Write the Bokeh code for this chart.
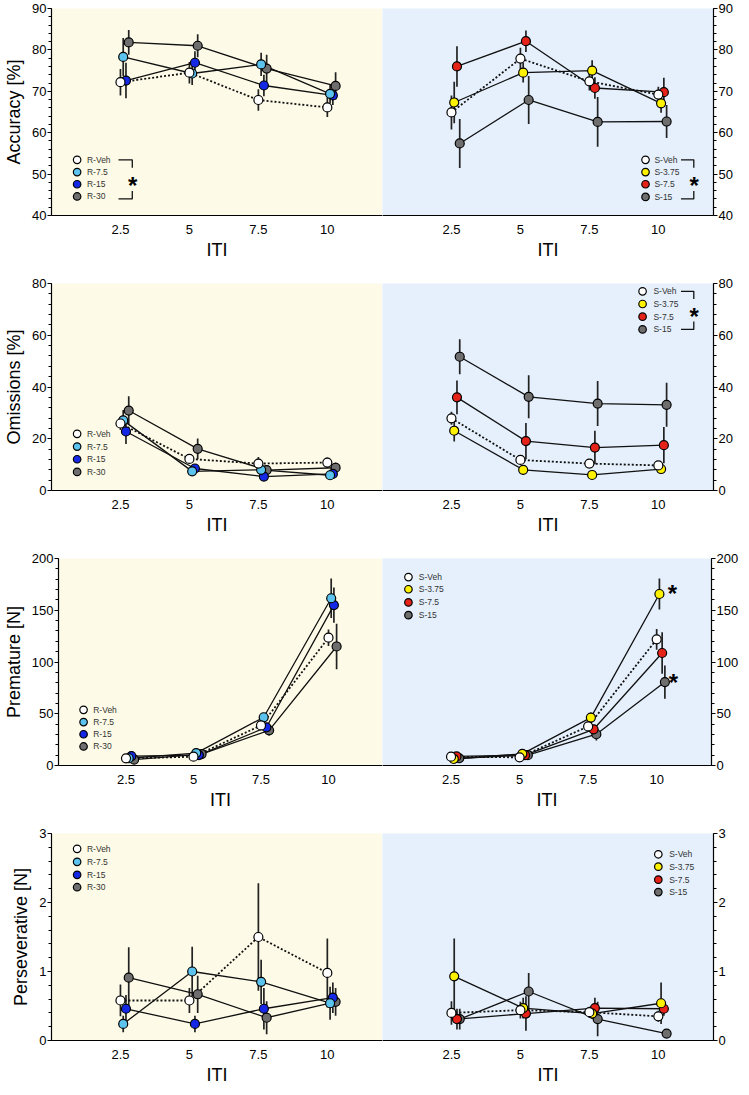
from bokeh.plotting import figure
from bokeh.layouts import column, row
from bokeh.models import Range1d, FixedTicker, SingleIntervalTicker, NumeralTickFormatter
from bokeh.core.properties import value
from bokeh.embed import file_html
from bokeh.resources import INLINE

FONT = "Liberation Sans"

# ---------------- data ----------------
ITI = [2.5, 5, 7.5, 10]
R_GROUPS = ["R-Veh", "R-7.5", "R-15", "R-30"]
S_GROUPS = ["S-Veh", "S-3.75", "S-7.5", "S-15"]
R_COLORS = ["#FFFFFF", "#5BC3EE", "#1428E6", "#6E6E6E"]
S_COLORS = ["#FFFFFF", "#FFF200", "#E62319", "#6E6E6E"]
DODGE = [0.0, 0.1, 0.2, 0.3]

accuracy_R = [[72.2, 74.5, 67.9, 66.1],
              [78.3, 74.3, 76.5, 69.4],
              [72.6, 76.9, 71.4, 69.0],
              [81.8, 81.0, 75.5, 71.3]]
accuracy_R_sem = [[3.2, 2.6, 2.6, 2.3],
                  [4.6, 2.8, 2.8, 2.3],
                  [4.3, 2.8, 2.6, 2.3],
                  [3.0, 2.8, 3.3, 3.3]]
accuracy_S = [[64.9, 77.9, 72.4, 69.2],
              [67.3, 74.5, 75.0, 67.1],
              [76.0, 82.1, 70.8, 69.8],
              [57.4, 67.9, 62.6, 62.7]]
accuracy_S_sem = [[4.1, 2.6, 2.2, 1.9],
                  [5.0, 2.4, 2.5, 2.3],
                  [4.9, 2.6, 2.6, 3.5],
                  [5.9, 5.8, 6.0, 4.0]]

omissions_R = [[25.9, 12.2, 10.4, 10.8],
               [27.1, 7.4, 8.0, 5.9],
               [22.8, 8.5, 5.4, 6.4],
               [30.9, 16.1, 7.9, 8.8]]
omissions_R_sem = [[2.5, 1.5, 2.5, 2.0],
                   [4.0, 1.3, 2.0, 1.0],
                   [4.8, 1.5, 1.0, 1.3],
                   [5.5, 4.0, 2.0, 2.0]]
omissions_S = [[27.9, 11.8, 10.4, 9.7],
               [23.1, 8.0, 6.0, 8.3],
               [36.0, 19.1, 16.6, 17.5],
               [51.7, 36.2, 33.6, 33.1]]
omissions_S_sem = [[2.5, 1.3, 1.5, 1.0],
                   [4.2, 1.8, 1.0, 1.5],
                   [6.5, 7.0, 6.5, 7.0],
                   [6.8, 8.3, 8.7, 8.5]]

premature_R = [[6.9, 8.5, 38.7, 123.5],
               [7.0, 12.0, 46.6, 161.6],
               [9.1, 10.1, 36.9, 155.0],
               [5.7, 11.0, 34.0, 115.0]]
premature_R_sem = [[1.5, 1.5, 3.0, 8.0],
                   [1.5, 2.0, 4.0, 19.0],
                   [1.5, 2.0, 4.0, 17.0],
                   [1.5, 2.0, 5.0, 22.0]]
premature_S = [[8.5, 7.9, 37.8, 121.9],
               [6.3, 11.3, 46.3, 165.7],
               [8.8, 10.0, 35.0, 108.7],
               [7.0, 10.0, 30.2, 80.6]]
premature_S_sem = [[1.0, 1.0, 3.0, 10.0],
                   [1.0, 1.5, 5.0, 15.0],
                   [1.0, 1.5, 4.0, 20.0],
                   [1.0, 1.5, 6.0, 16.0]]

persev_R = [[0.58, 0.58, 1.50, 0.98],
            [0.24, 1.00, 0.85, 0.54],
            [0.46, 0.24, 0.46, 0.62],
            [0.91, 0.67, 0.33, 0.56]]
persev_R_sem = [[0.23, 0.18, 0.78, 0.50],
                [0.12, 0.36, 0.32, 0.24],
                [0.20, 0.12, 0.30, 0.22],
                [0.44, 0.27, 0.24, 0.20]]
persev_S = [[0.40, 0.44, 0.41, 0.35],
            [0.93, 0.47, 0.39, 0.54],
            [0.31, 0.39, 0.47, 0.46],
            [0.31, 0.71, 0.31, 0.10]]
persev_S_sem = [[0.17, 0.12, 0.08, 0.08],
                [0.55, 0.15, 0.08, 0.30],
                [0.15, 0.25, 0.15, 0.10],
                [0.15, 0.27, 0.25, 0.04]]

# ---------------- layout constants ----------------
FRAME_W = 331
FRAME_H = 208
LEFT_B = 51
RIGHT_B = 28
BOTTOM_B = 46
TOP_FIRST = 8
TOP_OTHER = 21
REF_W, REF_H = 336.0, 212.0  # reference half-frame size for annotation placement

YELLOW_BG = "#FDFBE7"
BLUE_BG = "#E5F0FC"


def to_data(dx, dy, y0, y1):
    return dx / REF_W * 12.0, y1 - dy / REF_H * (y1 - y0)


def make_half(left, means, sems, groups, colors, y0, y1, interval, ylabel,
              top_border, legend, bracket=None, stars=()):
    w = (LEFT_B + FRAME_W) if left else (FRAME_W + RIGHT_B)
    h = top_border + FRAME_H + BOTTOM_B
    p = figure(width=w, height=h, x_range=Range1d(0, 12), y_range=Range1d(y0, y1),
               output_backend="svg", toolbar_location=None,
               y_axis_location="left" if left else "right",
               min_border_left=LEFT_B if left else 0,
               min_border_right=0 if left else RIGHT_B,
               min_border_top=top_border, min_border_bottom=BOTTOM_B)
    p.background_fill_color = YELLOW_BG if left else BLUE_BG
    p.border_fill_color = "white"
    p.outline_line_color = None
    p.xgrid.visible = False
    p.ygrid.visible = False

    xa = p.xaxis[0]
    xa.ticker = FixedTicker(ticks=ITI, minor_ticks=[])
    xa.formatter = NumeralTickFormatter(format="0.[0]")
    xa.major_tick_out = 0
    xa.major_tick_in = 0
    xa.minor_tick_out = 0
    xa.minor_tick_in = 0
    xa.major_label_standoff = 9
    xa.axis_label = "ITI"
    xa.axis_label_standoff = 3

    ya = p.yaxis[0]
    ya.ticker = SingleIntervalTicker(interval=interval, num_minor_ticks=5)
    ya.major_tick_out = 4
    ya.major_tick_in = 0
    ya.minor_tick_out = 3
    ya.minor_tick_in = 0
    ya.major_label_standoff = 1
    if left:
        ya.axis_label = ylabel
        ya.axis_label_standoff = 5

    for ax in (xa, ya):
        ax.axis_line_color = "black"
        ax.axis_line_width = 1.2
        ax.major_tick_line_color = "black"
        ax.major_tick_line_width = 1.2
        ax.minor_tick_line_color = "black"
        ax.minor_tick_line_width = 1
        ax.major_label_text_font = FONT
        ax.major_label_text_font_size = "13px"
        ax.major_label_text_color = "black"
        ax.axis_label_text_font = FONT
        ax.axis_label_text_font_size = "18px"
        ax.axis_label_text_font_style = "normal"
        ax.axis_label_text_color = "black"

    order = [3, 2, 1, 0]
    # error bars
    for i in order:
        xs = [x + DODGE[i] for x in ITI]
        lo = [m - e for m, e in zip(means[i], sems[i])]
        hi = [m + e for m, e in zip(means[i], sems[i])]
        p.segment(x0=xs, y0=lo, x1=xs, y1=hi, line_color="#222222", line_width=1.7)
    # connecting lines
    for i in order:
        xs = [x + DODGE[i] for x in ITI]
        if i == 0:
            p.line(xs, means[i], line_color="#111111", line_width=1.8, line_dash="2 2")
        else:
            p.line(xs, means[i], line_color="#111111", line_width=1.3)
    # markers
    for i in order:
        xs = [x + DODGE[i] for x in ITI]
        p.scatter(xs, means[i], size=9, fill_color=colors[i], line_color="black", line_width=1.2)

    # legend (manual, Prism style)
    mdx, tdx, dys = legend
    for i, g in enumerate(groups):
        mx, my = to_data(mdx, dys[i], y0, y1)
        tx, _ = to_data(tdx, dys[i], y0, y1)
        p.scatter([mx], [my], size=7.5, fill_color=colors[i], line_color="black", line_width=1.2)
        p.text([tx], [my], text=[g], text_font=value(FONT), text_font_size="8.5px",
               text_color="#333333", text_align="left", text_baseline="middle")

    if bracket is not None:
        bx0, bx1, btop, bbot, bv, sdy = bracket
        xa0, ytop = to_data(bx0, btop, y0, y1)
        xa1, ytv = to_data(bx1, btop + bv, y0, y1)
        _, ybot = to_data(bx0, bbot, y0, y1)
        _, ybv = to_data(bx0, bbot - bv, y0, y1)
        p.multi_line(xs=[[xa0, xa1, xa1], [xa0, xa1, xa1]],
                     ys=[[ytop, ytop, ytv], [ybot, ybot, ybv]],
                     line_color="#111111", line_width=1.3)
        stars = list(stars) + [(bx1 + 0.5, sdy)]

    for sdx, sdy in stars:
        sx, sy = to_data(sdx, sdy, y0, y1)
        p.text([sx], [sy], text=["*"], text_font=value(FONT), text_font_size="24px",
               text_font_style="bold", text_color="black", text_align="center",
               text_baseline="alphabetic", y_offset=6)
    return p


rows = []

# Row 1: Accuracy
L1 = make_half(True, accuracy_R, accuracy_R_sem, R_GROUPS, R_COLORS, 40, 90, 10, "Accuracy [%]", TOP_FIRST,
               (26, 36, [155, 167.5, 180, 192.5]), bracket=(68, 82, 155, 195, 8, 175))
R1 = make_half(False, accuracy_S, accuracy_S_sem, S_GROUPS, S_COLORS, 40, 90, 10, "", TOP_FIRST,
               (267, 276, [155, 167.5, 180, 193]), bracket=(303, 316, 155, 195, 8, 175))
rows.append(row(L1, R1))

# Row 2: Omissions
L2 = make_half(True, omissions_R, omissions_R_sem, R_GROUPS, R_COLORS, 0, 80, 20, "Omissions [%]", TOP_OTHER,
               (26, 36, [154, 167, 180, 193]))
R2 = make_half(False, omissions_S, omissions_S_sem, S_GROUPS, S_COLORS, 0, 80, 20, "", TOP_OTHER,
               (264, 275, [8, 21, 34, 47]), bracket=(303, 316, 8, 47, 8, 27.5))
rows.append(row(L2, R2))

# Row 3: Premature
L3 = make_half(True, premature_R, premature_R_sem, R_GROUPS, R_COLORS, 0, 200, 50, "Premature [N]", TOP_OTHER,
               (26, 36, [155, 167.5, 180, 192.5]))
R3 = make_half(False, premature_S, premature_S_sem, S_GROUPS, S_COLORS, 0, 200, 50, "", TOP_OTHER,
               (26.5, 37, [19, 31.5, 45, 58]), stars=[(296, 30), (297, 121)])
rows.append(row(L3, R3))

# Row 4: Perseverative
L4 = make_half(True, persev_R, persev_R_sem, R_GROUPS, R_COLORS, 0, 3, 1, "Perseverative [N]", TOP_OTHER,
               (26, 36, [15.7, 29, 42.3, 55]))
R4 = make_half(False, persev_S, persev_S_sem, S_GROUPS, S_COLORS, 0, 3, 1, "", TOP_OTHER,
               (280, 291, [21.3, 34, 47.3, 60]))
rows.append(row(L4, R4))

layout = column(*rows)

with open("out.html", "w") as f:
    f.write(file_html(layout, INLINE))
